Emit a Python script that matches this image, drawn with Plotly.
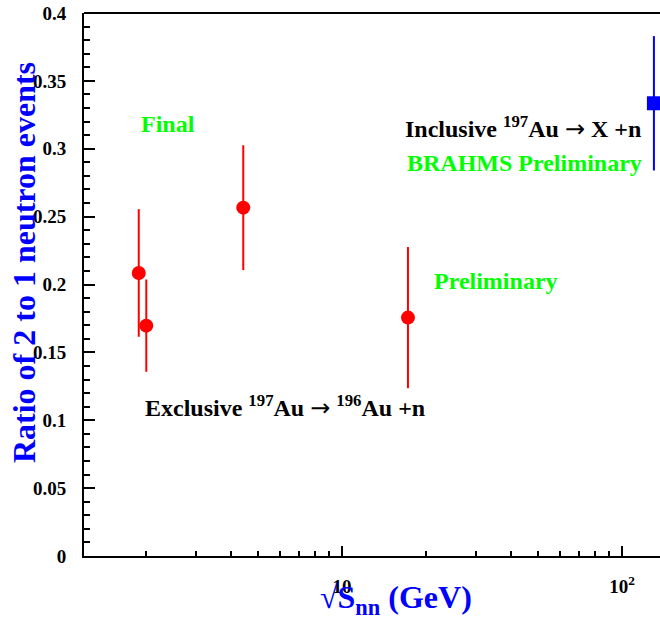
import plotly.graph_objects as go

# Exclusive 197Au -> 196Au + n (red circles)
excl_energy = [1.88, 2.0, 4.44, 17.2]
excl_ratio = [0.2085, 0.1697, 0.2566, 0.1756]
excl_err = [0.047, 0.034, 0.046, 0.052]

# Inclusive 197Au -> X + n (blue square, BRAHMS preliminary)
incl_energy = [130.0]
incl_ratio = [0.3335]
incl_err = [0.0495]

y_major = [0, 0.05, 0.1, 0.15, 0.2, 0.25, 0.3, 0.35, 0.4]
y_labels = ["0", "0.05", "0.1", "0.15", "0.2", "0.25", "0.3", "0.35", "0.4"]
x_major = [10, 100]
x_labels = ["10", "10<sup>2</sup>"]
x_minor = [2, 3, 4, 5, 6, 7, 8, 9, 20, 30, 40, 50, 60, 70, 80, 90]

FONT = "Liberation Serif"
RED = "#ff0000"
BLUE = "#0000ff"
GREEN = "#00ff00"
ARROW = "<span style=\"font-family:'DejaVu Sans';font-weight:normal\">\u2192</span>"

fig = go.Figure()
fig.add_trace(go.Scatter(
    x=excl_energy, y=excl_ratio, mode="markers",
    marker=dict(symbol="circle", size=14, color=RED),
    error_y=dict(type="data", array=excl_err, color=RED, thickness=2, width=0),
    showlegend=False, cliponaxis=False, hoverinfo="skip"))
fig.add_trace(go.Scatter(
    x=incl_energy, y=incl_ratio, mode="markers",
    marker=dict(symbol="square", size=14, color=BLUE),
    error_y=dict(type="data", array=incl_err, color=BLUE, thickness=2, width=0),
    showlegend=False, cliponaxis=False, hoverinfo="skip"))

def ann(text, x, y, color, size, xanchor="left", **kw):
    fig.add_annotation(text=text, x=x, y=y, xref="paper", yref="paper",
                       xanchor=xanchor, yanchor="middle", showarrow=False,
                       font=dict(family=FONT, size=size, color=color), **kw)

ann("<b>Final</b>", 0.1458, 0.7956, GREEN, 24, xanchor="center")
ann("<b>Inclusive <sup>197</sup>Au " + ARROW + " X +n</b>", 0.5538, 0.789, "black", 24)
ann("<b>BRAHMS Preliminary</b>", 0.5573, 0.7238, GREEN, 24)
ann("<b>Preliminary</b>", 0.6042, 0.5064, GREEN, 24)
ann("<b>Exclusive <sup>197</sup>Au " + ARROW + " <sup>196</sup>Au +n</b>", 0.1024, 0.275, "black", 24)
ann("<b>Ratio of 2 to 1 neutron events</b>", -0.104, 0.5396, BLUE, 32,
    xanchor="center", textangle=-90)
ann("<b>\u221aS<sub>nn</sub> (GeV)</b>", 0.5417, -0.081, BLUE, 32, xanchor="center")

# top frame line
fig.add_shape(type="line", xref="paper", yref="paper", x0=0, x1=1, y0=1, y1=1,
              line=dict(color="black", width=2))

fig.update_layout(
    width=660, height=623,
    margin=dict(l=84, r=0, t=13, b=67),
    paper_bgcolor="white", plot_bgcolor="white",
    font=dict(family=FONT, color="black"),
    hovermode=False,
    xaxis=dict(type="log", range=[0.0786, 2.1357],
               tickmode="array", tickvals=x_major, ticktext=x_labels,
               ticks="inside", ticklen=10, tickwidth=1.5, tickcolor="black",
               minor=dict(tickmode="array", tickvals=x_minor, ticks="inside",
                          ticklen=5, tickwidth=1.5, tickcolor="black"),
               showline=True, linecolor="black", linewidth=2,
               showgrid=False, zeroline=False,
               tickfont=dict(family=FONT, size=19, color="black", weight="bold"),
               ticklabelstandoff=12, ticklabeloverflow="allow"),
    yaxis=dict(range=[0, 0.4],
               tickmode="array", tickvals=y_major, ticktext=y_labels,
               ticks="inside", ticklen=11, tickwidth=1.5, tickcolor="black",
               minor=dict(dtick=0.01, ticks="inside", ticklen=6,
                          tickwidth=1.5, tickcolor="black"),
               showline=True, linecolor="black", linewidth=2,
               showgrid=False, zeroline=False,
               tickfont=dict(family=FONT, size=19, color="black", weight="bold"),
               ticklabelstandoff=12, ticklabeloverflow="allow"),
)

fig.write_html(
    "out.html",
    config={"displayModeBar": False},
    post_script="document.body.style.margin='0';document.body.style.overflow='hidden';",
)
